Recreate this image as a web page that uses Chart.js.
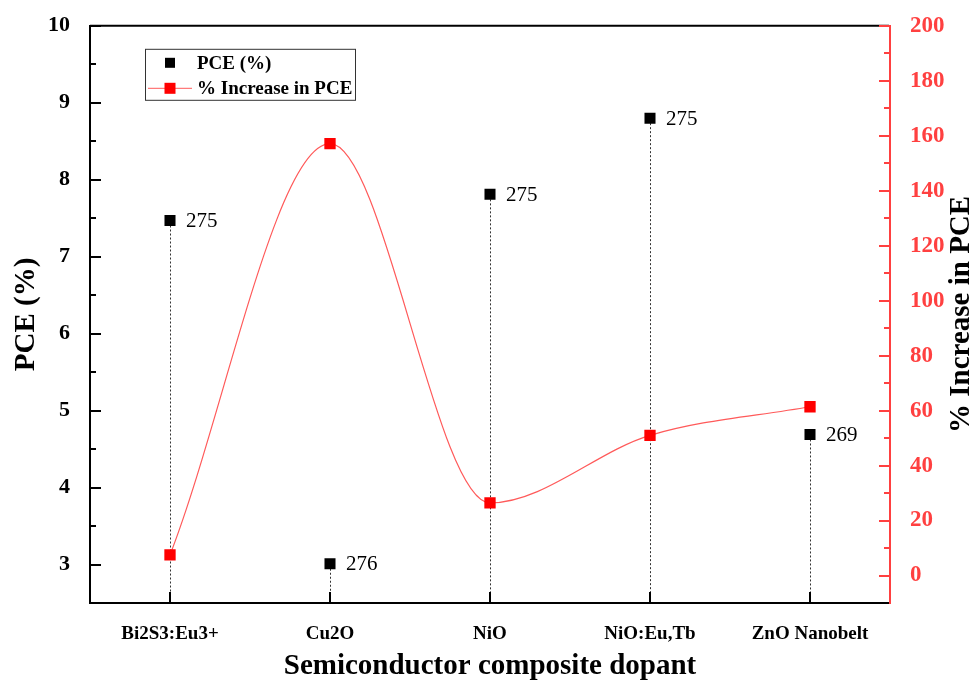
<!DOCTYPE html>
<html>
<head>
<meta charset="utf-8">
<script src="https://cdn.jsdelivr.net/npm/chart.js@4.4.0/dist/chart.umd.min.js"></script>
<style>
  html, body { margin: 0; padding: 0; background: #fff; }
  #wrap { width: 974px; height: 684px; }
</style>
</head>
<body>
<div id="wrap"><canvas id="chart"></canvas></div>
<script>
// Data
const categories = ['Bi2S3:Eu3+', 'Cu2O', 'NiO', 'NiO:Eu,Tb', 'ZnO Nanobelt'];
const pceValues = [7.47, 3.01, 7.81, 8.80, 4.69];
const increaseValues = [7.5, 157.1, 26.4, 51, 61.4];
const pointLabels = ['275', '276', '275', '275', '269'];
const pceRange = [2.5, 10];
const increaseRange = [-10, 200];

const SERIF = "'Liberation Serif', 'Times New Roman', serif";
const RED_LINE = '#ff5a5a';
const RED_MARK = '#ff0000';
const RED_AXIS = '#ff4040';

// Vertical dotted lines from each PCE point down to the x axis
const dropLines = {
    id: 'dropLines',
    beforeDatasetsDraw(chart) {
        const ctx = chart.ctx;
        const bottom = chart.chartArea.bottom;
        const meta = chart.getDatasetMeta(0);
        ctx.save();
        ctx.strokeStyle = '#333';
        ctx.lineWidth = 1;
        ctx.setLineDash([2, 2]);
        meta.data.forEach(pt => {
            const x = Math.round(pt.x) + 0.5;
            ctx.beginPath();
            ctx.moveTo(x, pt.y + 5);
            ctx.lineTo(x, bottom);
            ctx.stroke();
        });
        ctx.restore();
    }
};

// Number next to each PCE point
const valueLabels = {
    id: 'valueLabels',
    afterDatasetsDraw(chart) {
        const ctx = chart.ctx;
        const meta = chart.getDatasetMeta(0);
        ctx.save();
        ctx.fillStyle = '#000';
        ctx.font = '21px ' + SERIF;
        ctx.textAlign = 'left';
        ctx.textBaseline = 'middle';
        meta.data.forEach((pt, i) => {
            ctx.fillText(pointLabels[i], pt.x + 16, pt.y + 1);
        });
        ctx.restore();
    }
};

// Ticks pointing into the plot, top border, right title and the boxed legend
const frame = {
    id: 'frame',
    afterDraw(chart) {
        const ctx = chart.ctx;
        const area = chart.chartArea;
        const xs = chart.scales.x;
        const ys = chart.scales.y;
        const y1 = chart.scales.y1;
        ctx.save();

        // top border
        ctx.strokeStyle = '#000';
        ctx.lineWidth = 2;
        ctx.beginPath();
        ctx.moveTo(area.left, area.top);
        ctx.lineTo(area.right - 1, area.top);
        ctx.stroke();

        // x ticks
        xs.ticks.forEach((t, i) => {
            const px = Math.round(xs.getPixelForTick(i));
            ctx.beginPath();
            ctx.moveTo(px, area.bottom);
            ctx.lineTo(px, area.bottom - 11);
            ctx.stroke();
        });

        // left ticks
        ys.ticks.forEach(t => {
            const py = Math.round(ys.getPixelForValue(t.value));
            const len = Number.isInteger(t.value) ? 11 : 6;
            ctx.beginPath();
            ctx.moveTo(area.left, py);
            ctx.lineTo(area.left + len, py);
            ctx.stroke();
        });

        // right ticks
        ctx.strokeStyle = RED_AXIS;
        y1.ticks.forEach(t => {
            if (t.value < 0) return;
            const py = Math.round(y1.getPixelForValue(t.value));
            const len = t.value % 20 === 0 ? 11 : 6;
            ctx.beginPath();
            ctx.moveTo(area.right, py);
            ctx.lineTo(area.right - len, py);
            ctx.stroke();
        });

        // right axis title, reading bottom to top
        ctx.fillStyle = '#000';
        ctx.font = 'bold 29px ' + SERIF;
        ctx.textAlign = 'center';
        ctx.textBaseline = 'middle';
        ctx.translate(962, (area.top + area.bottom) / 2);
        ctx.rotate(-Math.PI / 2);
        ctx.fillText('% Increase in PCE', 0, 0);
        ctx.setTransform(1, 0, 0, 1, 0, 0);

        // legend
        const ds = chart.data.datasets;
        const lx = area.left + 55, ly = area.top + 23;
        ctx.strokeStyle = '#333';
        ctx.lineWidth = 1;
        ctx.strokeRect(lx + 0.5, ly + 0.5, 210, 51);

        ctx.fillStyle = ds[0].backgroundColor;
        ctx.fillRect(lx + 20, ly + 9, 10, 10);

        ctx.strokeStyle = ds[1].borderColor;
        ctx.beginPath();
        ctx.moveTo(lx + 3, ly + 39.5);
        ctx.lineTo(lx + 47, ly + 39.5);
        ctx.stroke();
        ctx.fillStyle = ds[1].pointBackgroundColor;
        ctx.fillRect(lx + 19.5, ly + 34, 11, 11);

        ctx.fillStyle = '#000';
        ctx.font = 'bold 19px ' + SERIF;
        ctx.textAlign = 'left';
        ctx.fillText(ds[0].label, lx + 52, ly + 15);
        ctx.fillText(ds[1].label, lx + 52, ly + 40);

        ctx.restore();
    }
};

new Chart(document.getElementById('chart'), {
    type: 'line',
    data: {
        labels: categories,
        datasets: [{
            label: 'PCE (%)',
            data: pceValues,
            yAxisID: 'y',
            showLine: false,
            pointStyle: 'rect',
            pointRadius: 7.8,
            pointHoverRadius: 7.8,
            backgroundColor: '#000',
            borderColor: '#000',
            pointBorderWidth: 0,
            order: 2
        }, {
            label: '% Increase in PCE',
            data: increaseValues,
            yAxisID: 'y1',
            borderColor: RED_LINE,
            borderWidth: 1.2,
            cubicInterpolationMode: 'monotone',
            pointStyle: 'rect',
            pointRadius: 8,
            pointHoverRadius: 8,
            pointBackgroundColor: RED_MARK,
            pointBorderColor: RED_MARK,
            pointBorderWidth: 0,
            fill: false,
            order: 1
        }]
    },
    options: {
        responsive: true,
        maintainAspectRatio: false,
        animation: false,
        devicePixelRatio: 1,
        layout: { padding: { top: 25, left: 0, right: 0, bottom: 0 } },
        plugins: {
            legend: { display: false },
            tooltip: { enabled: false }
        },
        scales: {
            x: {
                type: 'category',
                offset: true,
                grid: { display: false },
                border: { display: true, color: '#000', width: 2 },
                ticks: {
                    color: '#000',
                    font: { family: SERIF, size: 19, weight: 'bold' },
                    padding: 12,
                    maxRotation: 0,
                    autoSkip: false
                },
                title: {
                    display: true,
                    text: 'Semiconductor composite dopant',
                    color: '#000',
                    font: { family: SERIF, size: 29, weight: 'bold' },
                    padding: { top: 0, bottom: 0 }
                },
                afterFit(scale) { scale.height = 81; }
            },
            y: {
                position: 'left',
                min: pceRange[0],
                max: pceRange[1],
                grid: { display: false },
                border: { display: true, color: '#000', width: 2 },
                ticks: {
                    stepSize: 0.5,
                    autoSkip: false,
                    color: '#000',
                    padding: 12,
                    font: { family: SERIF, size: 22, weight: 'bold' },
                    callback: v => Number.isInteger(v) ? String(v) : ''
                },
                title: {
                    display: true,
                    text: 'PCE (%)',
                    color: '#000',
                    font: { family: SERIF, size: 29, weight: 'bold' },
                    padding: { top: 9, bottom: 0 }
                },
                afterFit(scale) { scale.width = 90; }
            },
            y1: {
                position: 'right',
                min: increaseRange[0],
                max: increaseRange[1],
                grid: { display: false },
                border: { display: true, color: RED_AXIS, width: 2 },
                ticks: {
                    stepSize: 10,
                    autoSkip: false,
                    color: RED_AXIS,
                    padding: 12,
                    font: { family: SERIF, size: 23, weight: 'bold' },
                    callback: v => (v >= 0 && v % 20 === 0) ? String(v) : ''
                },
                afterFit(scale) { scale.width = 84; }
            }
        }
    },
    plugins: [dropLines, valueLabels, frame]
});
</script>
</body>
</html>
